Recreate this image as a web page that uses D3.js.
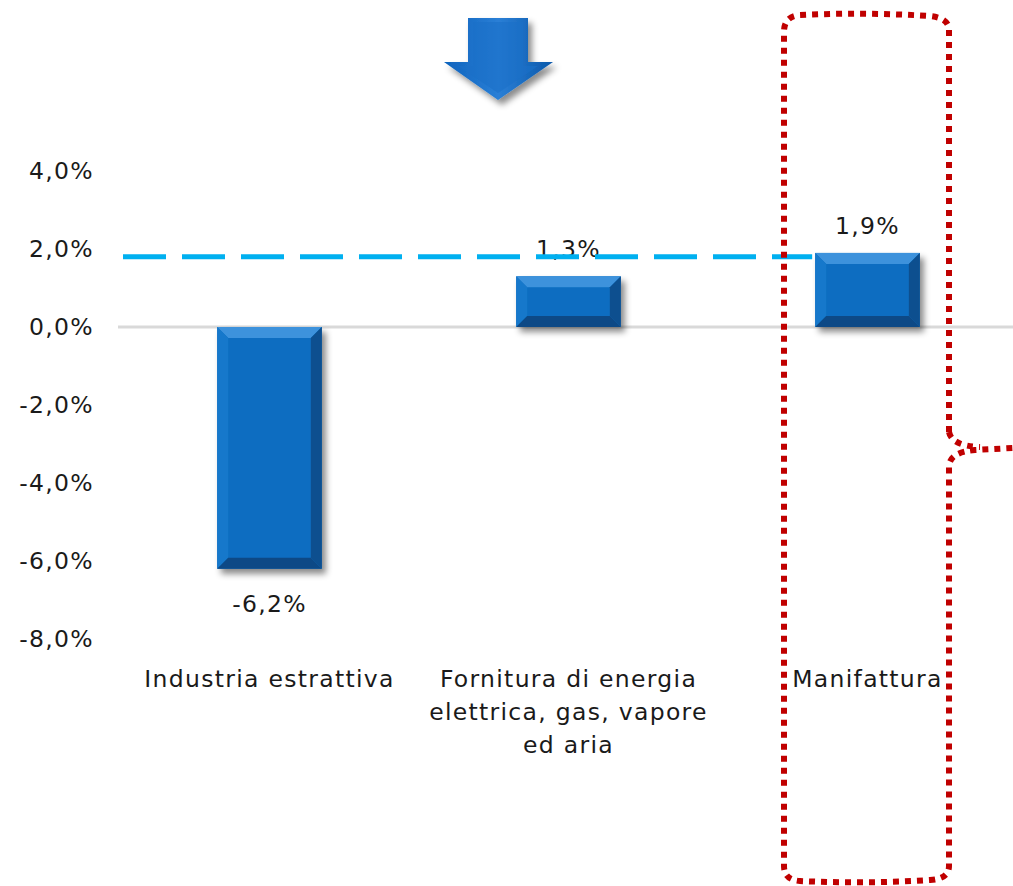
<!DOCTYPE html>
<html>
<head>
<meta charset="utf-8">
<script src="https://cdn.jsdelivr.net/npm/d3@7"></script>
<style>
  html, body { margin: 0; padding: 0; background: #fff; }
  svg { display: block; }
  text { font-family: "DejaVu Sans", Verdana, sans-serif; fill: #1a1a1a; letter-spacing: 1.3px; }
</style>
</head>
<body>
<svg id="chart" width="1013" height="886"></svg>
<script>
// ---- data ----
const categories = ["Industria estrattiva", "Fornitura di energia elettrica, gas, vapore ed aria", "Manifattura"];
const values = [-6.2, 1.3, 1.9];
const valueLabels = ["-6,2%", "1,3%", "1,9%"];
const yTicks = [4, 2, 0, -2, -4, -6, -8];
const yTickLabels = ["4,0%", "2,0%", "0,0%", "-2,0%", "-4,0%", "-6,0%", "-8,0%"];
const referenceValue = [1.8];
const highlighted = ["Manifattura"];

const W = 1013, H = 886;
const FS = "23.5px";
const svg = d3.select("#chart");

const x = d3.scaleBand().domain(categories).range([120, 1017]).padding(0);
const y = d3.scaleLinear().domain([-8, 4]).range([639, 171]);
const barW = x.step() * 0.35;

const defs = svg.append("defs");
const f = defs.append("filter").attr("id", "shadow").attr("x", "-20%").attr("y", "-20%").attr("width", "150%").attr("height", "150%");
f.append("feDropShadow").attr("dx", 4).attr("dy", 5).attr("stdDeviation", 3).attr("flood-color", "#000").attr("flood-opacity", 0.45);

const ag = defs.append("linearGradient").attr("id", "arrowGrad").attr("x1", 0).attr("x2", 1).attr("y1", 0).attr("y2", 0);
ag.append("stop").attr("offset", "0%").attr("stop-color", "#0e63bd");
ag.append("stop").attr("offset", "50%").attr("stop-color", "#2a7fd6");
ag.append("stop").attr("offset", "100%").attr("stop-color", "#0a58aa");

// ---- y axis labels ----
svg.append("g").selectAll("text").data(yTicks).join("text")
  .attr("x", 94).attr("y", d => y(d)).attr("dy", "0.36em")
  .attr("text-anchor", "end").style("font-size", FS)
  .text((d, i) => yTickLabels[i]);

// zero line
svg.append("line").attr("x1", 118).attr("x2", W).attr("y1", y(0)).attr("y2", y(0))
  .attr("stroke", "#d9d9d9").attr("stroke-width", 3);

// ---- bars with bevel ----
const bars = svg.append("g").selectAll("g").data(categories).join("g")
  .attr("filter", "url(#shadow)");
bars.each(function(c, i) {
  const g = d3.select(this);
  const x0 = x(c) + x.bandwidth() / 2 - barW / 2, x1 = x0 + barW;
  const v = values[i];
  const yt = Math.min(y(v), y(0)), yb = Math.max(y(v), y(0));
  const b = 11;
  g.append("rect").attr("x", x0).attr("y", yt).attr("width", barW).attr("height", yb - yt).attr("fill", "#0b6dc1");
  const poly = (pts, fill) => g.append("polygon").attr("points", pts.map(p => p.join(",")).join(" ")).attr("fill", fill);
  poly([[x0, yt], [x1, yt], [x1 - b, yt + b], [x0 + b, yt + b]], "#3d92dc");
  poly([[x0, yt], [x0 + b, yt + b], [x0 + b, yb - b], [x0, yb]], "#1878cb");
  poly([[x1, yt], [x1, yb], [x1 - b, yb - b], [x1 - b, yt + b]], "#0a4f8f");
  poly([[x0, yb], [x0 + b, yb - b], [x1 - b, yb - b], [x1, yb]], "#074a86");
});

// ---- value labels ----
svg.append("g").selectAll("text").data(categories).join("text")
  .attr("x", c => x(c) + x.bandwidth() / 2)
  .attr("y", (c, i) => values[i] >= 0 ? y(values[i]) - 19 : y(values[i]) + 43)
  .attr("text-anchor", "middle").style("font-size", FS)
  .text((c, i) => valueLabels[i]);

// ---- category labels (wrapped) ----
const catG = svg.append("g");
categories.forEach(c => {
  const cx = x(c) + x.bandwidth() / 2;
  const t = catG.append("text").attr("x", cx).attr("y", 687)
    .attr("text-anchor", "middle").style("font-size", FS);
  const words = c.split(" ");
  let line = [];
  let ts = t.append("tspan").attr("x", cx).attr("dy", 0);
  words.forEach(w => {
    line.push(w);
    ts.text(line.join(" "));
    if (ts.node().getComputedTextLength() > x.step() - 6 && line.length > 1) {
      line.pop(); ts.text(line.join(" "));
      line = [w];
      ts = t.append("tspan").attr("x", cx).attr("dy", "1.4em").text(w);
    }
  });
});

// ---- reference dashed line ----
const hx = x(highlighted[0]) + x.bandwidth() / 2 - barW / 2;
svg.append("line").attr("x1", 123).attr("x2", hx - 3)
  .attr("y1", y(referenceValue[0])).attr("y2", y(referenceValue[0]))
  .attr("stroke", "#00b0f0").attr("stroke-width", 5).attr("stroke-dasharray", "43,16");

// ---- arrow ----
svg.append("path")
  .attr("d", "M468,18 L528,18 L528,62 L553,62 L498,100 L444,62 L468,62 Z")
  .attr("fill", "url(#arrowGrad)").attr("filter", "url(#shadow)");
svg.append("path").attr("d", "M473,22 L523,22 L523,66 L538,66 L498,93 L458,66 L473,66 Z")
  .attr("fill", "#1a70c8").attr("opacity", 0.6);

// ---- red dotted bracket ----
const red = svg.append("g").attr("fill", "none").attr("stroke", "#c00000")
  .attr("stroke-width", 6).attr("stroke-dasharray", "6,6");
red.append("path").attr("d",
  "M949,432 L949,30 Q949,18 930,16 Q865,12 800,15 Q784,16 784,32 L784,866 Q784,880 800,881 Q865,884 930,880 Q949,879 949,866 L949,466 Q950,452 975,450 L1013,448");
red.append("path").attr("d", "M949,432 Q952,446 980,447");
</script>
</body>
</html>
